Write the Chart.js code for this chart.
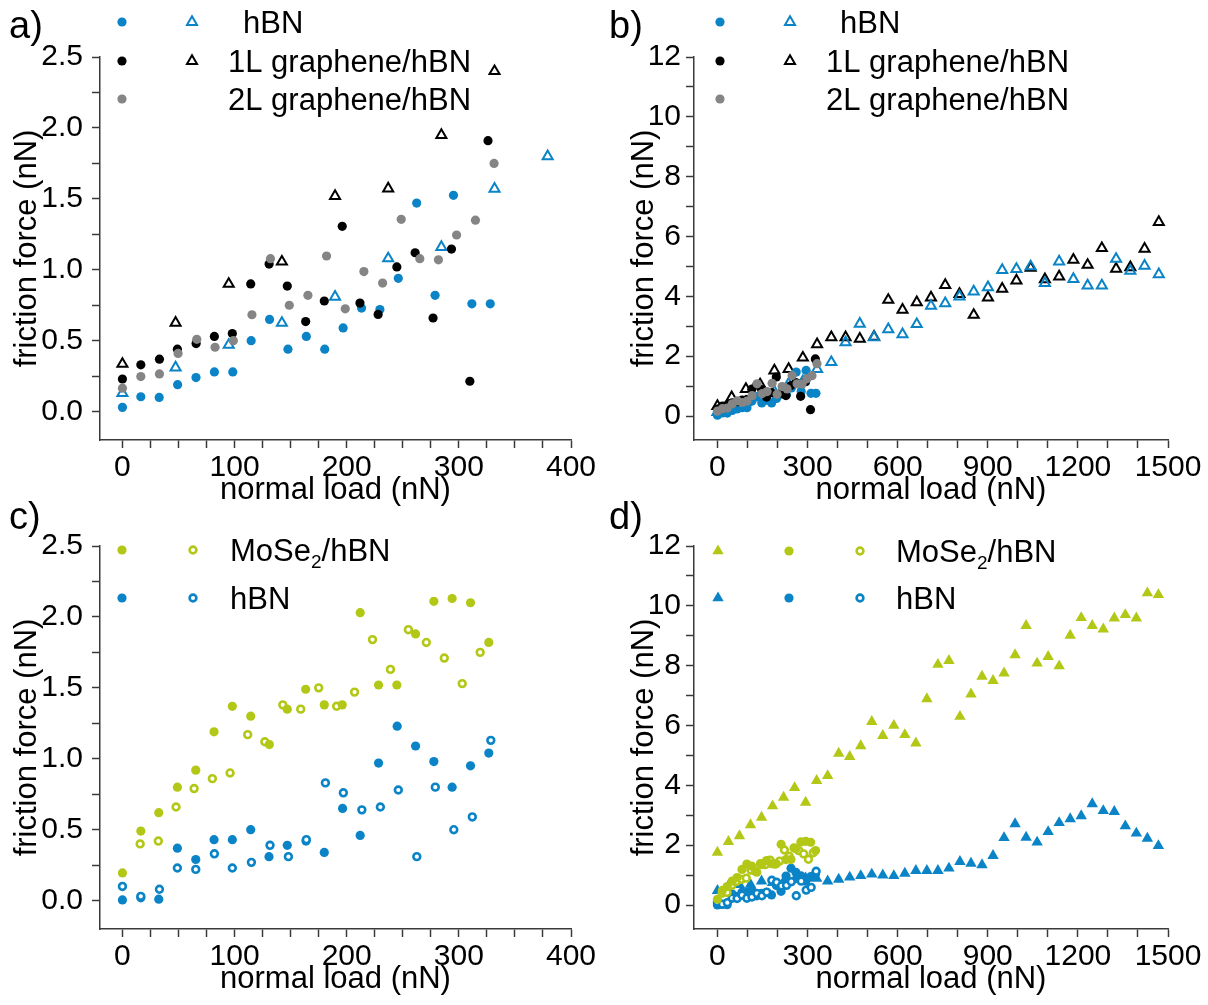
<!DOCTYPE html>
<html lang="en">
<head>
<meta charset="UTF-8">
<title>Friction force vs normal load</title>
<script src="https://cdn.jsdelivr.net/npm/chart.js"></script>
<style>
  html, body { margin: 0; padding: 0; background: #fff; overflow: hidden; }
  .panel { position: absolute; }
</style>
</head>
<body>
<div class="panel" style="left:0;top:0;width:600px;height:516px"><canvas id="chartA"></canvas></div>
<div class="panel" style="left:600px;top:0;width:608px;height:516px"><canvas id="chartB"></canvas></div>
<div class="panel" style="left:0;top:489px;width:600px;height:516px"><canvas id="chartC"></canvas></div>
<div class="panel" style="left:600px;top:489px;width:608px;height:516px"><canvas id="chartD"></canvas></div>

<script>
// ---- data: graphene / hBN (panels a, b) ----
const hbnDotX   = [0, 16.4, 32.8, 49.2, 65.6, 82, 98.4, 114.8, 131.2, 147.6, 164, 180.4, 196.8, 213.2, 229.6, 246, 262.4, 278.8, 295.2, 311.6, 328];
const hbnDotY   = [0.03, 0.105, 0.10, 0.19, 0.24, 0.28, 0.28, 0.50, 0.65, 0.44, 0.53, 0.44, 0.59, 0.73, 0.72, 0.94, 1.47, 0.82, 1.525, 0.76, 0.76];
const g1DotX    = [0, 16.4, 33, 49, 65.7, 82, 98, 114.4, 130.8, 147, 163.4, 180, 196, 211.8, 228, 244.7, 261, 277, 293.4, 309.8, 326];
const g1DotY    = [0.23, 0.33, 0.37, 0.44, 0.48, 0.53, 0.55, 0.90, 1.04, 0.885, 0.635, 0.78, 1.306, 0.765, 0.685, 1.02, 1.12, 0.66, 1.146, 0.214, 1.91];
const g2DotX    = [0, 16.4, 33, 49.6, 66.3, 82.6, 98.9, 115.5, 132, 148.8, 165.4, 182, 198.7, 215.3, 232, 248.6, 265.2, 281.8, 298, 314.8, 331.4];
const g2DotY    = [0.165, 0.247, 0.266, 0.41, 0.51, 0.454, 0.50, 0.683, 1.078, 0.75, 0.82, 1.097, 0.725, 0.987, 0.906, 1.356, 1.078, 1.07, 1.245, 1.35, 1.75];
const triX      = [0, 47.4, 94.8, 142.2, 189.6, 237, 284.4, 331.8, 379.2, 426.6, 474, 521.4, 568.8, 616.2, 663.6, 711, 758.4, 805.8, 853.2, 900.6, 948, 995.4, 1042.8, 1090.2, 1137.6, 1185, 1232.4, 1279.8, 1327.2, 1374.6, 1422, 1469.4];
const hbnTriY   = [0.13, 0.31, 0.47, 0.625, 0.81, 1.08, 1.16, 1.57, 1.80, 2.46, 3.08, 2.63, 2.90, 2.73, 3.07, 3.68, 3.77, 3.99, 4.16, 4.30, 4.88, 4.91, 5.00, 4.44, 5.16, 4.58, 4.36, 4.36, 5.25, 4.85, 5.02, 4.74];
const g1TriY    = [0.336, 0.626, 0.90, 1.057, 1.52, 1.573, 1.95, 2.40, 2.63, 2.63, 2.58, 2.65, 3.88, 3.55, 3.80, 3.96, 4.38, 4.08, 3.38, 3.96, 4.25, 4.53, 4.95, 4.57, 4.66, 5.22, 5.05, 5.61, 4.92, 4.97, 5.59, 6.48];

// ---- data: MoSe2 / hBN (panels c, d) ----
const moDotX    = [0, 16.4, 32.4, 49, 65.4, 81.7, 98, 114.4, 131, 147, 163.4, 180, 196, 212, 228.4, 244.7, 261.4, 277.7, 294, 310.4, 326.7];
const moDotY    = [0.195, 0.49, 0.62, 0.80, 0.92, 1.19, 1.37, 1.30, 1.10, 1.35, 1.49, 1.38, 1.38, 2.03, 1.52, 1.52, 1.88, 2.11, 2.13, 2.10, 1.82];
const moRingX   = [15.8, 32, 47.8, 63.9, 80.2, 96, 111.7, 127, 143, 159, 175, 191, 207, 223, 239, 255, 271, 287, 303, 319];
const moRingY   = [0.40, 0.42, 0.66, 0.79, 0.86, 0.90, 1.17, 1.12, 1.38, 1.35, 1.50, 1.37, 1.47, 1.84, 1.63, 1.91, 1.82, 1.71, 1.53, 1.75];
const bnDotX    = [0, 16.4, 32.4, 49, 65.4, 81.7, 98, 114.4, 130.7, 147, 163.7, 180, 196.3, 212, 228.4, 245, 261.4, 277.7, 294, 310.4, 326.7];
const bnDotY    = [0.005, 0.02, 0.01, 0.37, 0.29, 0.43, 0.43, 0.50, 0.31, 0.39, 0.42, 0.34, 0.65, 0.46, 0.97, 1.23, 1.09, 0.98, 0.80, 0.95, 1.04];
const bnRingX   = [0, 16.4, 33, 49, 65.4, 82, 98, 115, 131.6, 148, 164, 181, 197, 213.5, 230, 246, 262.5, 279, 295.5, 312, 328.5];
const bnRingY   = [0.10, 0.03, 0.08, 0.23, 0.22, 0.33, 0.23, 0.27, 0.39, 0.31, 0.43, 0.83, 0.76, 0.64, 0.66, 0.78, 0.31, 0.80, 0.50, 0.59, 1.13];
const dTriX     = [0, 36.7, 73.4, 110.1, 146.8, 183.5, 220.2, 256.9, 293.6, 330.3, 367, 403.7, 440.4, 477.1, 513.8, 550.5, 587.2, 623.9, 660.6, 697.3, 734, 770.7, 807.4, 844.1, 880.8, 917.5, 954.2, 990.9, 1027.6, 1064.3, 1101, 1137.7, 1174.4, 1211.1, 1247.8, 1284.5, 1321.2, 1357.9, 1394.6, 1431.3, 1468];
const moTriY    = [1.76, 2.12, 2.31, 2.68, 2.93, 3.31, 3.60, 3.92, 3.43, 4.16, 4.32, 5.07, 4.96, 5.32, 6.13, 5.66, 6.0, 5.69, 5.41, 6.89, 8.04, 8.17, 6.30, 7.05, 7.64, 7.50, 7.75, 8.36, 9.34, 8.08, 8.30, 7.99, 9.01, 9.60, 9.34, 9.22, 9.59, 9.70, 9.59, 10.43, 10.37];
const bnTriY    = [0.48, 0.64, 0.68, 0.69, 0.80, 0.75, 0.78, 0.85, 0.90, 0.89, 0.80, 0.86, 0.93, 0.98, 1.03, 1.00, 0.98, 1.06, 1.15, 1.15, 1.15, 1.23, 1.45, 1.39, 1.34, 1.65, 2.25, 2.71, 2.26, 2.10, 2.45, 2.75, 2.88, 2.98, 3.38, 3.15, 3.12, 2.64, 2.40, 2.23, 1.98];

// ---- ticks ----
const xTicksSmall  = [0, 25, 50, 75, 100, 125, 150, 175, 200, 225, 250, 275, 300, 325, 350, 375, 400];
const xLabelsSmall = [0, 100, 200, 300, 400];
const yTicksSmall  = [0, 0.25, 0.5, 0.75, 1, 1.25, 1.5, 1.75, 2, 2.25, 2.5];
const yLabelsSmall = [0, 0.5, 1, 1.5, 2, 2.5];
const xTicksBig    = [0, 100, 200, 300, 400, 500, 600, 700, 800, 900, 1000, 1100, 1200, 1300, 1400, 1500];
const xLabelsBig   = [0, 300, 600, 900, 1200, 1500];
const yTicksBig    = [0, 1, 2, 3, 4, 5, 6, 7, 8, 9, 10, 11, 12];
const yLabelsBig   = [0, 2, 4, 6, 8, 10, 12];

const BLUE = '#0a84c6', BLACK = '#000000', GRAY = '#858585', GREEN = '#b3c816';
const AXIS = '#3a3a3a';
const FAMILY = '"Liberation Sans", Arial, sans-serif';
Chart.defaults.font.family = FAMILY;

const pts = (xs, ys) => xs.map((x, i) => ({ x: x, y: ys[i] }));
const has = (list, v) => list.some(t => Math.abs(t - v) < 1e-6);

// marker looks (shared by datasets and legend)
const LOOK = {
  dot:  { pointStyle: 'circle',   pointRadius: 4.6, borderWidth: 0,   fill: true },
  otri: { pointStyle: 'triangle', pointRadius: 5.8, borderWidth: 2,   fill: false },
  ring: { pointStyle: 'circle',   pointRadius: 3.4, borderWidth: 2.6, fill: false },
  ftri: { pointStyle: 'triangle', pointRadius: 6.6, borderWidth: 0,   fill: true }
};

function series(xs, ys, kind, color) {
  const l = LOOK[kind];
  return {
    data: pts(xs, ys),
    pointStyle: l.pointStyle,
    pointRadius: l.pointRadius,
    pointBorderWidth: l.borderWidth,
    pointBackgroundColor: l.fill ? color : (kind === 'ring' ? '#ffffff' : 'rgba(0,0,0,0)'),
    pointBorderColor: color,
    showLine: false
  };
}

function drawMarker(ctx, kind, color, x, y) {
  const l = LOOK[kind];
  const r = l.pointRadius;
  ctx.beginPath();
  if (l.pointStyle === 'circle') {
    ctx.arc(x, y, r, 0, Math.PI * 2);
  } else {
    ctx.moveTo(x, y - r);
    ctx.lineTo(x + 0.866 * r, y + 0.5 * r);
    ctx.lineTo(x - 0.866 * r, y + 0.5 * r);
    ctx.closePath();
  }
  if (l.fill) { ctx.fillStyle = color; ctx.fill(); }
  else {
    if (kind === 'ring') { ctx.fillStyle = '#fff'; ctx.fill(); }
    ctx.lineWidth = l.borderWidth; ctx.strokeStyle = color; ctx.stroke();
  }
}

// panel letter + legend drawn on top of the canvas
const decoPlugin = {
  id: 'deco',
  afterDraw(chart, args, o) {
    const ctx = chart.ctx;
    ctx.save();
    ctx.fillStyle = '#000';
    ctx.textBaseline = 'middle';
    ctx.font = '38px ' + FAMILY;
    ctx.fillText(o.label, 9, o.labelY);
    o.rows.forEach(r => {
      r.markers.forEach(m => drawMarker(ctx, m.k, m.c, m.x, r.y));
      let x = r.x;
      ctx.fillStyle = '#000';
      ctx.textBaseline = 'alphabetic';
      r.text.forEach(seg => {
        ctx.font = (seg.sub ? '19px ' : '31px ') + FAMILY;
        ctx.fillText(seg.t, x, r.y + 11 + (seg.sub ? 7 : 0));
        x += ctx.measureText(seg.t).width;
      });
    });
    ctx.restore();
  }
};

function scales(o) {
  const font = { family: FAMILY, size: 30 };
  const titleFont = { family: FAMILY, size: 31 };
  const grid = { drawOnChartArea: false, drawTicks: true, tickLength: 8, tickColor: AXIS, tickWidth: 1.5 };
  const border = { display: true, color: AXIS, width: 1.5 };
  return {
    x: {
      type: 'linear', min: o.xMin, max: o.xMax,
      afterBuildTicks: s => { s.ticks = o.xTicks.map(v => ({ value: v })); },
      afterFit: s => { s.height = 76; },
      ticks: { font: font, color: '#000', padding: 2, maxRotation: 0, autoSkip: false,
               callback: v => has(o.xLabels, v) ? String(v) : '' },
      grid: grid, border: border,
      title: { display: true, text: 'normal load (nN)', font: titleFont, color: '#000', padding: { top: 0, bottom: 7 } }
    },
    y: {
      type: 'linear', min: o.yMin, max: o.yMax,
      afterBuildTicks: s => { s.ticks = o.yTicks.map(v => ({ value: v })); },
      afterFit: s => { s.width = o.yWidth; },
      ticks: { font: font, color: '#000', padding: o.yPad, autoSkip: false,
               callback: v => has(o.yLabels, v) ? (o.dec ? v.toFixed(1) : String(v)) : '' },
      grid: grid, border: border,
      title: { display: true, text: 'friction force (nN)', font: titleFont, color: '#000', padding: { top: o.titlePad, bottom: 0 } }
    }
  };
}

function makeChart(id, datasets, sc, pad, deco) {
  new Chart(document.getElementById(id), {
    type: 'scatter',
    data: { datasets: datasets },
    options: {
      responsive: true, maintainAspectRatio: false, animation: false, events: [],
      layout: { padding: pad },
      scales: scales(sc),
      plugins: { legend: { display: false }, tooltip: { enabled: false }, deco: deco }
    },
    plugins: [decoPlugin]
  });
}

const small = { xMin: -20, xMax: 400, yMin: -0.2, yMax: 2.5, xTicks: xTicksSmall, xLabels: xLabelsSmall,
                yTicks: yTicksSmall, yLabels: yLabelsSmall, dec: true, yWidth: 100, yPad: 9, titlePad: 9 };
const big   = { xMin: -78, xMax: 1500, yMin: -0.8, yMax: 12, xTicks: xTicksBig, xLabels: xLabelsBig,
                yTicks: yTicksBig, yLabels: yLabelsBig, dec: false, yWidth: 94, yPad: 5, titlePad: 26 };

// a)
makeChart('chartA', [
  series(g2DotX, g2DotY, 'dot', GRAY),
  series(g1DotX, g1DotY, 'dot', BLACK),
  series(hbnDotX, hbnDotY, 'dot', BLUE),
  series(triX, g1TriY, 'otri', BLACK),
  series(triX, hbnTriY, 'otri', BLUE)
], small, { top: 57, right: 29, left: 0, bottom: 0 }, {
  label: 'a)', labelY: 28,
  rows: [
    { y: 22, x: 243, markers: [{ x: 122, k: 'dot', c: BLUE }, { x: 192, k: 'otri', c: BLUE }], text: [{ t: 'hBN' }] },
    { y: 61, x: 228, markers: [{ x: 122, k: 'dot', c: BLACK }, { x: 192, k: 'otri', c: BLACK }], text: [{ t: '1L graphene/hBN' }] },
    { y: 99, x: 228, markers: [{ x: 122, k: 'dot', c: GRAY }], text: [{ t: '2L graphene/hBN' }] }
  ]
});

// b)
makeChart('chartB', [
  series(g2DotX, g2DotY, 'dot', GRAY),
  series(g1DotX, g1DotY, 'dot', BLACK),
  series(hbnDotX, hbnDotY, 'dot', BLUE),
  series(triX, hbnTriY, 'otri', BLUE),
  series(triX, g1TriY, 'otri', BLACK)
], big, { top: 57, right: 40, left: 0, bottom: 0 }, {
  label: 'b)', labelY: 28,
  rows: [
    { y: 22, x: 240, markers: [{ x: 120, k: 'dot', c: BLUE }, { x: 190, k: 'otri', c: BLUE }], text: [{ t: 'hBN' }] },
    { y: 61, x: 226, markers: [{ x: 120, k: 'dot', c: BLACK }, { x: 190, k: 'otri', c: BLACK }], text: [{ t: '1L graphene/hBN' }] },
    { y: 99, x: 226, markers: [{ x: 120, k: 'dot', c: GRAY }], text: [{ t: '2L graphene/hBN' }] }
  ]
});

// c)
makeChart('chartC', [
  series(moDotX, moDotY, 'dot', GREEN),
  series(moRingX, moRingY, 'ring', GREEN),
  series(bnRingX, bnRingY, 'ring', BLUE),
  series(bnDotX, bnDotY, 'dot', BLUE)
], small, { top: 57, right: 29, left: 0, bottom: 0 }, {
  label: 'c)', labelY: 30,
  rows: [
    { y: 61, x: 230, markers: [{ x: 122, k: 'dot', c: GREEN }, { x: 193, k: 'ring', c: GREEN }], text: [{ t: 'MoSe' }, { t: '2', sub: true }, { t: '/hBN' }] },
    { y: 109, x: 230, markers: [{ x: 122, k: 'dot', c: BLUE }, { x: 193, k: 'ring', c: BLUE }], text: [{ t: 'hBN' }] }
  ]
});

// d)
makeChart('chartD', [
  series(moDotX, moDotY, 'dot', GREEN),
  series(moRingX, moRingY, 'ring', GREEN),
  series(bnRingX, bnRingY, 'ring', BLUE),
  series(bnDotX, bnDotY, 'dot', BLUE),
  series(dTriX, bnTriY, 'ftri', BLUE),
  series(dTriX, moTriY, 'ftri', GREEN)
], big, { top: 57, right: 40, left: 0, bottom: 0 }, {
  label: 'd)', labelY: 30,
  rows: [
    { y: 62, x: 296, markers: [{ x: 118, k: 'ftri', c: GREEN }, { x: 189, k: 'dot', c: GREEN }, { x: 260, k: 'ring', c: GREEN }], text: [{ t: 'MoSe' }, { t: '2', sub: true }, { t: '/hBN' }] },
    { y: 109, x: 296, markers: [{ x: 118, k: 'ftri', c: BLUE }, { x: 189, k: 'dot', c: BLUE }, { x: 260, k: 'ring', c: BLUE }], text: [{ t: 'hBN' }] }
  ]
});
</script>
</body>
</html>
